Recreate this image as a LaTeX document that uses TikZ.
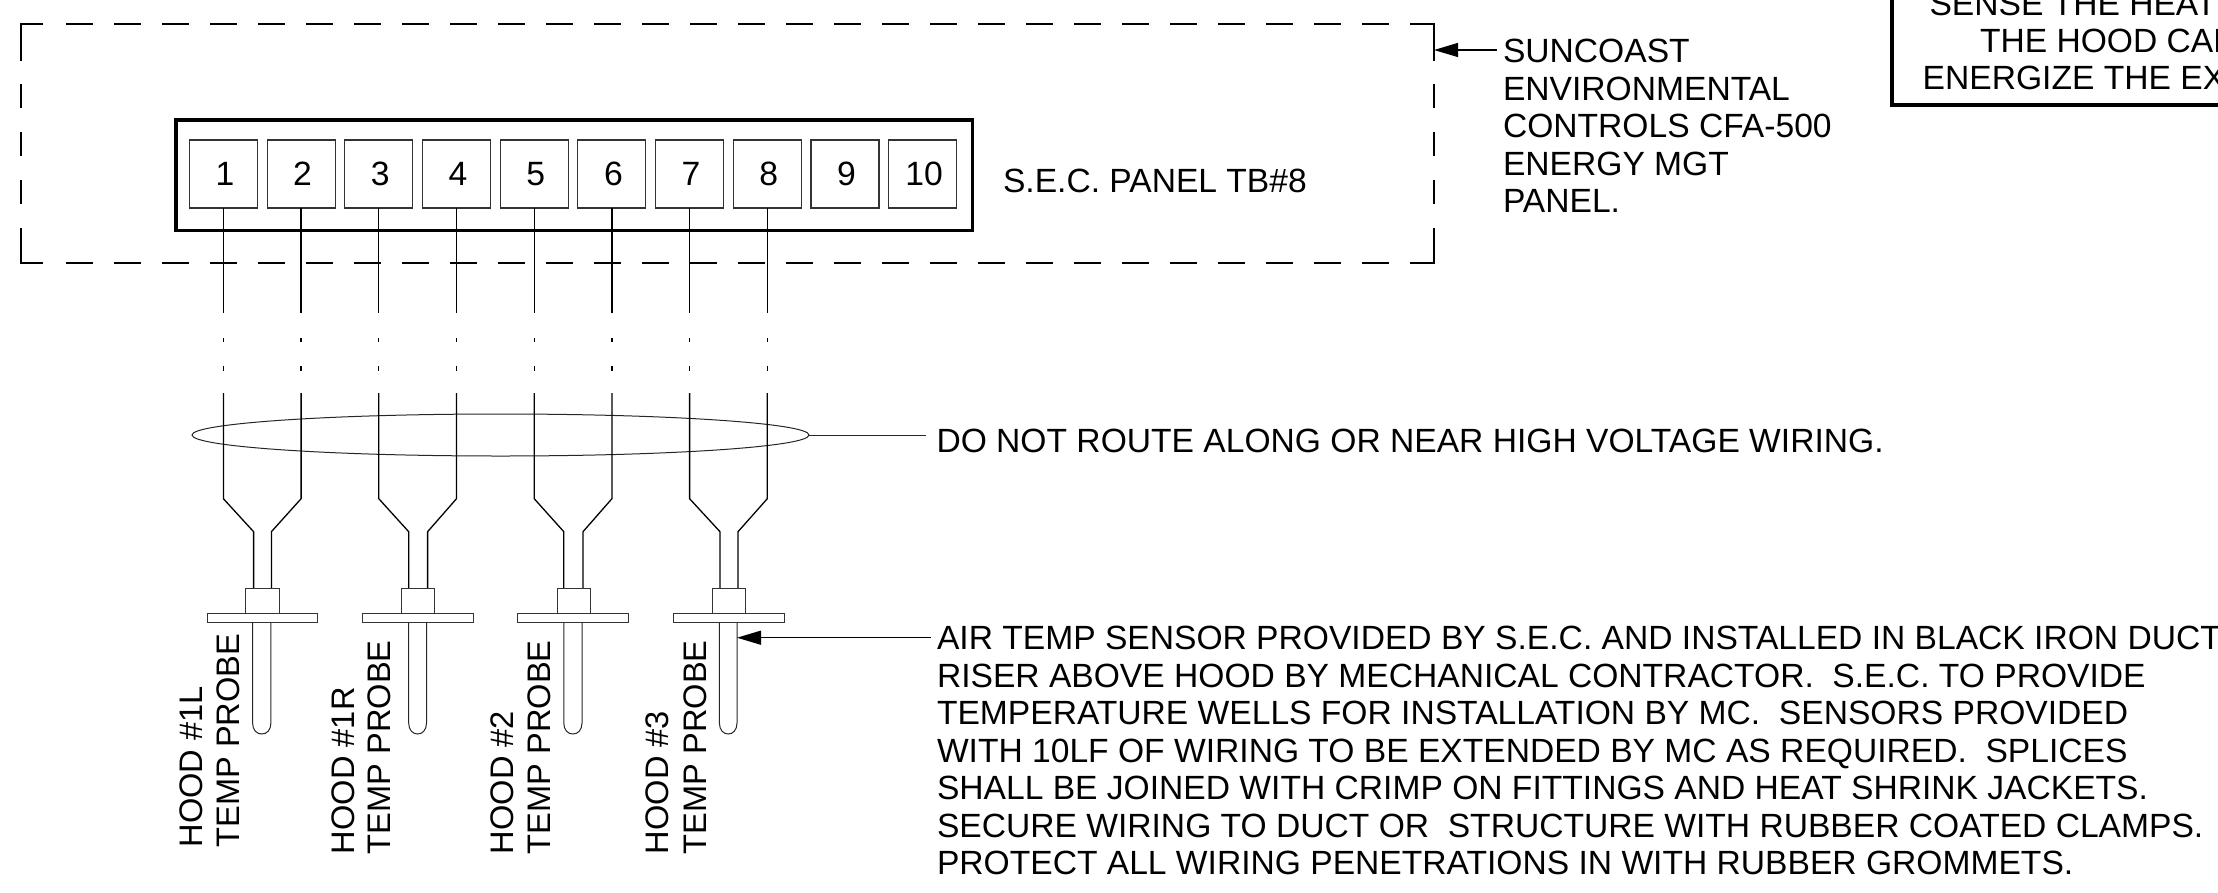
\documentclass[tikz,border=0pt]{standalone}
\usepackage{fontspec}
\setmainfont{Liberation Sans}
\usetikzlibrary{arrows.meta,shapes.geometric}
\tikzset{
  x=1pt,y=-1pt,
  outer sep=0pt,
  txt/.style={font=\fontsize{33.6}{37}\selectfont,inner sep=0pt,anchor=base west,text=black},
  thin line/.style={line width=1.3pt,black},
  panelbox/.style={line width=3.6pt,draw=black},
  termbox/.style={draw=black!80,line width=1.1pt,minimum width=68pt,minimum height=68pt,inner sep=0pt,font=\fontsize{33.7}{37}\selectfont},
  dashsolid/.style={line width=1.5pt,draw=black},
  dashh/.style={dashsolid,dash pattern=on 27pt off 21pt},
  dashv/.style={dashsolid,dash pattern=on 24pt off 24pt},
  lead/.style={line width=1.2pt,draw=black,-{Triangle[length=24pt,width=14pt]}},
  vtxt/.style={font=\fontsize{32.6}{37}\selectfont,inner sep=0pt,anchor=base west,rotate=90,text=black}
}
\begin{document}
\begin{tikzpicture}
\useasboundingbox (0,0) rectangle (2218,892);
% dashed enclosure
\draw[dashsolid] (43,24) -- (21,24) -- (21,60.7);
\draw[dashsolid] (43,263) -- (21,263) -- (21,228);
\draw[dashsolid] (1434,60.7) -- (1434,24) -- (1410,24);
\draw[dashsolid] (1434,228) -- (1434,263) -- (1410,263);
\draw[dashh] (66,24) -- (1410,24);
\draw[dashh] (66,263) -- (1410,263);
\draw[dashv] (21,84) -- (21,228);
\draw[dashv] (1434,84) -- (1434,228);
% panel
\node[panelbox,draw,inner sep=0pt,minimum width=796.5pt,minimum height=110.5pt,anchor=north west] (panel) at (176,120) {};
\foreach \i/\cx in {1/223.4,2/301.1,3/378.8,4/456.5,5/534.2,6/611.9,7/689.6,8/767.3,9/845,10/922.7}{
  \node[termbox] (t\i) at (\cx,174) {\hspace*{3pt}\i};
}
\node[txt] (secpanel) at (1003,192) {S.E.C. PANEL TB\#8};
% wires, per channel
\foreach \i/\cx in {1/223.4,2/301.1,3/378.8,4/456.5,5/534.2,6/611.9,7/689.6,8/767.3}{
  \coordinate (w\i a) at (\cx,313);
  \coordinate (w\i b) at (\cx,337.5);
  \coordinate (w\i c) at (\cx,342);
  \coordinate (w\i d) at (\cx,366);
  \coordinate (w\i e) at (\cx,370.5);
  \coordinate (w\i f) at (\cx,393);
  \coordinate (w\i g) at (\cx,498.7);
  \draw[thin line] (t\i.south) -- (w\i a);
  \draw[thin line] (w\i b) -- (w\i c);
  \draw[thin line] (w\i d) -- (w\i e);
}
% ellipse
\node[draw=black!85,line width=1pt,ellipse,minimum width=617pt,minimum height=42pt,inner sep=0pt] (bundle) at (500.5,435) {};
\node[txt] (dnr) at (936.5,452.7) {DO NOT ROUTE ALONG OR NEAR HIGH VOLTAGE WIRING.};
\coordinate (dnrL) at (925.5,435);
\draw[line width=1pt,black!85] (bundle.east) -- (dnrL);
% probes
\foreach \n/\wl/\wr/\nl/\nr/\bl/\br/\fl/\fr/\pl/\pr in {
 A/1/2/253.6/271.4/245.4/279.6/207.7/317.3/252.6/270.9,
 B/3/4/408.7/427.6/401.5/434.7/362.2/473/408.7/426.5,
 C/5/6/563.8/583/557/590/517.3/628.6/563.8/582,
 D/7/8/720/738/712.7/745.4/673.5/784.7/719.4/737}{
  \coordinate (n\n a) at (\nl,531.7);
  \coordinate (n\n b) at (\nr,531.7);
  \coordinate (n\n c) at (\nl,588);
  \coordinate (n\n d) at (\nr,588);
  \draw[thin line,line join=round] (w\wl f) -- (w\wl g) -- (n\n a) -- (n\n c);
  \draw[thin line,line join=round] (w\wr f) -- (w\wr g) -- (n\n b) -- (n\n d);
  \draw[line width=1pt,black!80] (\bl,588) rectangle (\br,613);
  \draw[line width=1pt,black!80] (\fl,613) rectangle (\fr,622.7);
  \draw[line width=1pt,black!85] (\pl,622.7) -- (\pl,723) .. controls (\pl,730) and ({\pl+4},734) .. ({(\pl+\pr)/2},734) .. controls ({\pr-4},734) and (\pr,730) .. (\pr,723) -- (\pr,622.7);
}
% rotated labels
\node[vtxt] (h1a) at (202.5,847.5) {HOOD \#1L};
\node[vtxt] (h1b) at (239.3,847.5) {TEMP PROBE};
\node[vtxt] (h2a) at (354,854) {HOOD \#1R};
\node[vtxt] (h2b) at (390.8,854) {TEMP PROBE};
\node[vtxt] (h3a) at (513.3,854) {HOOD \#2};
\node[vtxt] (h3b) at (550.5,854) {TEMP PROBE};
\node[vtxt] (h4a) at (668.9,854) {HOOD \#3};
\node[vtxt] (h4b) at (706,854) {TEMP PROBE};
% suncoast
\node[txt] (s1) at (1503,62.3) {SUNCOAST};
\node[txt] (s2) at (1503,100) {ENVIRONMENTAL};
\node[txt] (s3) at (1503,137.3) {CONTROLS CFA-500};
\node[txt] (s4) at (1503,175) {ENERGY MGT};
\node[txt] (s5) at (1503,212.3) {PANEL.};
\coordinate (sA) at (1497,50);
\coordinate (sB) at (1434,50);
\draw[lead] (sA) -- (sB);
% air temp note
\node[txt] (a1) at (937,649.3) {AIR TEMP SENSOR PROVIDED BY S.E.C. AND INSTALLED IN BLACK IRON DUCT};
\node[txt] (a2) at (937,687.3) {RISER ABOVE HOOD BY MECHANICAL CONTRACTOR.\ \ S.E.C. TO PROVIDE};
\node[txt] (a3) at (937,724.5) {TEMPERATURE WELLS FOR INSTALLATION BY MC.\ \ SENSORS PROVIDED};
\node[txt] (a4) at (937,762.5) {WITH 10LF OF WIRING TO BE EXTENDED BY MC AS REQUIRED.\ \ SPLICES};
\node[txt] (a5) at (937,799.5) {SHALL BE JOINED WITH CRIMP ON FITTINGS AND HEAT SHRINK JACKETS.};
\node[txt] (a6) at (937,837) {SECURE WIRING TO DUCT OR\ \ STRUCTURE WITH RUBBER COATED CLAMPS.};
\node[txt] (a7) at (937,874.3) {PROTECT ALL WIRING PENETRATIONS IN WITH RUBBER GROMMETS.};
\coordinate (aA) at (930.6,637.7);
\coordinate (aB) at (737,637.7);
\draw[lead] (aA) -- (aB);
% clipped note box
\begin{scope}
\clip (0,0) rectangle (2218,892);
\draw[panelbox] (1892,-5) -- (1892,105) -- (2230,105);
\node[txt] (n1) at (1929.5,15) {SENSE THE HEAT};
\node[txt] (n2) at (1980,52) {THE HOOD CAN};
\node[txt] (n3) at (1922.7,89.3) {ENERGIZE THE EX};
\end{scope}
\end{tikzpicture}
\end{document}
